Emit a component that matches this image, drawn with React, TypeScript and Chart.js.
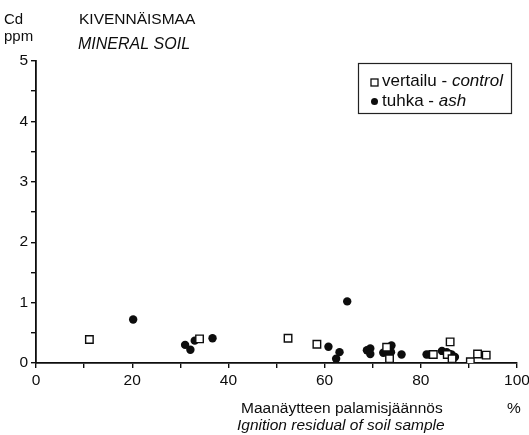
import React, { useEffect, useRef } from 'react';
import { Chart, registerables } from 'chart.js';
Chart.register(...registerables);

// vertailu - control
const controlX = [11.1, 34.0, 52.4, 58.4, 72.9, 73.5, 82.6, 85.5, 86.1, 86.5, 90.3, 91.8, 93.6];
const controlY = [0.39, 0.40, 0.41, 0.31, 0.26, 0.07, 0.14, 0.14, 0.35, 0.07, 0.02, 0.15, 0.13];
// tuhka - ash
const ashX = [20.2, 31.0, 32.1, 33.0, 36.7, 60.8, 62.4, 63.1, 64.7, 68.8, 69.5, 69.5, 72.2, 72.9, 73.9, 73.8, 76.0, 81.2, 81.8, 84.4, 85.4, 86.4, 87.1];
const ashY = [0.72, 0.30, 0.22, 0.37, 0.41, 0.27, 0.07, 0.18, 1.02, 0.21, 0.24, 0.15, 0.17, 0.19, 0.29, 0.18, 0.14, 0.14, 0.14, 0.20, 0.18, 0.14, 0.10];

const xMin = 0, xMax = 100, xStep = 10, xLabelEvery = 20;
const yMin = 0, yMax = 5, yStep = 0.5;

const FONT = '"Liberation Sans", Arial, Helvetica, sans-serif';
const INK = '#0d0d0d';

const textPlugin = {
  id: 'texts',
  afterDraw(chart: any) {
    const ctx = chart.ctx as CanvasRenderingContext2D;
    ctx.save();
    ctx.fillStyle = INK;
    ctx.textBaseline = 'alphabetic';
    ctx.textAlign = 'left';
    ctx.font = `15px ${FONT}`;
    ctx.fillText('Cd', 4, 24);
    ctx.fillText('ppm', 4, 41);
    ctx.font = `15.5px ${FONT}`;
    ctx.fillText('KIVENNÄISMAA', 79, 24);
    ctx.font = `italic 16px ${FONT}`;
    ctx.fillText('MINERAL SOIL', 78, 49);

    // axis title
    ctx.font = `15.5px ${FONT}`;
    ctx.fillText('Maanäytteen palamisjäännös', 241, 413);
    ctx.fillText('%', 507, 413);
    ctx.font = `italic 15.5px ${FONT}`;
    ctx.fillText('Ignition residual of soil sample', 237, 430);

    // legend
    ctx.strokeStyle = '#222';
    ctx.lineWidth = 1.2;
    ctx.strokeRect(358.5, 63.5, 153, 50);
    ctx.fillStyle = '#fff';
    ctx.lineWidth = 1.3;
    ctx.strokeStyle = INK;
    ctx.fillRect(371, 79, 7, 7);
    ctx.strokeRect(371, 79, 7, 7);
    ctx.fillStyle = INK;
    ctx.beginPath();
    ctx.arc(374.5, 101.5, 3.5, 0, Math.PI * 2);
    ctx.fill();
    ctx.font = `17px ${FONT}`;
    const t1 = 'vertailu - ';
    ctx.fillText(t1, 382, 86);
    const w1 = ctx.measureText(t1).width;
    const t2 = 'tuhka - ';
    ctx.fillText(t2, 382, 106);
    const w2 = ctx.measureText(t2).width;
    ctx.font = `italic 17px ${FONT}`;
    ctx.fillText('control', 382 + w1, 86);
    ctx.fillText('ash', 382 + w2, 106);
    ctx.restore();
  },
};

export default function App() {
  const ref = useRef<HTMLCanvasElement | null>(null);
  useEffect(() => {
    if (!ref.current) return;
    const chart = new Chart(ref.current, {
      type: 'scatter',
      data: {
        datasets: [
          {
            label: 'vertailu - control',
            data: controlX.map((x, i) => ({ x, y: controlY[i] })),
            pointStyle: 'rect',
            pointRadius: 5.3,
            borderWidth: 1.4,
            borderColor: INK,
            backgroundColor: '#ffffff',
          },
          {
            label: 'tuhka - ash',
            data: ashX.map((x, i) => ({ x, y: ashY[i] })),
            pointStyle: 'circle',
            pointRadius: 4.2,
            borderWidth: 0,
            borderColor: INK,
            backgroundColor: INK,
          },
        ],
      },
      options: {
        responsive: false,
        animation: false,
        events: [],
        layout: { padding: { top: 61, right: 12, bottom: 0, left: 0 } },
        plugins: { legend: { display: false }, tooltip: { enabled: false }, title: { display: false } },
        scales: {
          x: {
            type: 'linear',
            min: xMin,
            max: xMax,
            afterFit: (s: any) => {
              s.height = 72;
              s.paddingLeft = 0;
              s.paddingRight = 0;
            },
            ticks: {
              stepSize: xStep,
              autoSkip: false,
              maxRotation: 0,
              padding: 3,
              color: INK,
              font: { family: FONT, size: 15.5 },
              callback: (v: any) => (Number(v) % xLabelEvery === 0 ? String(v) : ''),
            },
            grid: { drawOnChartArea: false, drawTicks: true, tickLength: 5, color: INK, lineWidth: 1.4 },
            border: { display: true, color: INK, width: 1.8 },
          },
          y: {
            type: 'linear',
            min: yMin,
            max: yMax,
            afterFit: (s: any) => {
              s.width = 36;
              s.paddingTop = 0;
              s.paddingBottom = 0;
            },
            ticks: {
              stepSize: yStep,
              autoSkip: false,
              padding: 3,
              color: INK,
              font: { family: FONT, size: 15.5 },
              callback: (v: any) => (Number.isInteger(Number(v)) ? String(v) : ''),
            },
            grid: { drawOnChartArea: false, drawTicks: true, tickLength: 5, color: INK, lineWidth: 1.4 },
            border: { display: true, color: INK, width: 1.8 },
          },
        },
      },
      plugins: [textPlugin],
    } as any);
    return () => chart.destroy();
  }, []);
  return (
    <div style={{ position: 'fixed', left: 0, top: 0, width: 529, height: 435, background: '#fff' }}>
      <canvas ref={ref} width={529} height={435} style={{ display: 'block' }} />
    </div>
  );
}
